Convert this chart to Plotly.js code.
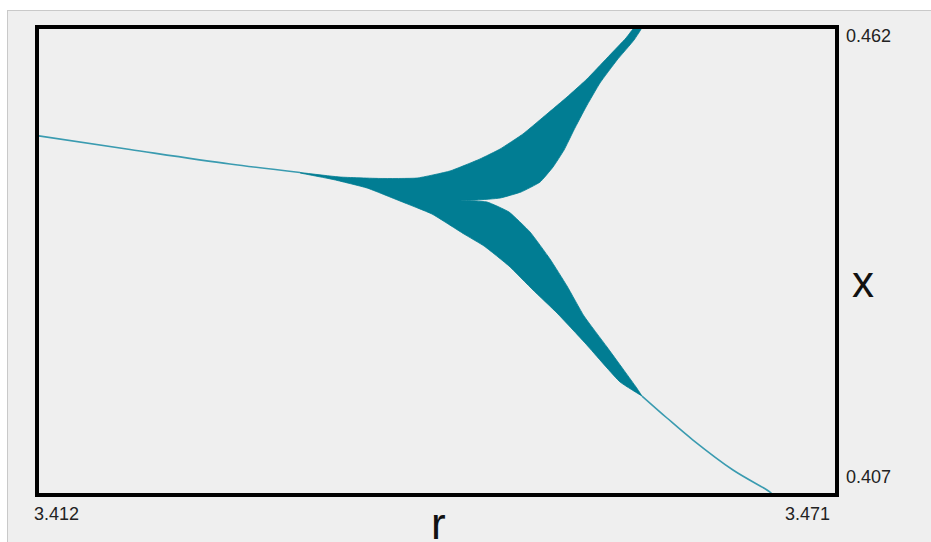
<!DOCTYPE html>
<html>
<head>
<meta charset="utf-8">
<script src="https://cdn.plot.ly/plotly-3.0.1.min.js"></script>
<style>
  body { margin: 0; background: #ffffff; overflow: hidden; }
  #card {
    position: absolute; left: 7px; top: 10px; width: 940px; height: 560px;
    background: #efefef; border: 1px solid #c9c9c9;
  }
  #chart { position: absolute; left: 0; top: 0; width: 931px; height: 542px; }
</style>
</head>
<body>
<div id="card"></div>
<div id="chart"></div>
<script>
// axis limits shown on the chart
const rRange = [3.412, 3.471];
const xRange = [0.407, 0.462];

// single stable branch on the left
const rStable = [3.41200, 3.41886, 3.42623, 3.43140];
const xStable = [0.44923, 0.44760, 0.44590, 0.44490];

// outer edge of the band, left to the top of the upper branch
const rUpperOuter = [3.43140, 3.43435, 3.43730, 3.44003, 3.44246, 3.44467, 3.44615, 3.44784, 3.44961, 3.45109, 3.45256, 3.45404, 3.45544, 3.45610];
const xUpperOuter = [0.44490, 0.44437, 0.44420, 0.44425, 0.44508, 0.44649, 0.44766, 0.44943, 0.45178, 0.45377, 0.45589, 0.45836, 0.46071, 0.46200];

// inner edge of the upper branch, top down to the notch
const rUpperInner = [3.45662, 3.45603, 3.45478, 3.45352, 3.45249, 3.45160, 3.45087, 3.45006, 3.44910, 3.44770, 3.44615, 3.44445, 3.44305];
const xUpperInner = [0.46200, 0.46047, 0.45812, 0.45542, 0.45260, 0.44990, 0.44754, 0.44555, 0.44378, 0.44261, 0.44190, 0.44167, 0.44167];

// inner edge of the lower branch, notch down to its tip
const rLowerInner = [3.44305, 3.44519, 3.44681, 3.44836, 3.44983, 3.45109, 3.45234, 3.45404, 3.45618, 3.45662];
const xLowerInner = [0.44167, 0.44143, 0.44026, 0.43791, 0.43474, 0.43156, 0.42804, 0.42439, 0.41969, 0.41863];

// outer edge of the lower branch, tip back to the left
const rLowerOuter = [3.45662, 3.45500, 3.45242, 3.45035, 3.44858, 3.44681, 3.44497, 3.44349, 3.44113, 3.43877, 3.43634, 3.43383, 3.43140];
const xLowerOuter = [0.41863, 0.42028, 0.42486, 0.42839, 0.43109, 0.43391, 0.43626, 0.43767, 0.44002, 0.44155, 0.44308, 0.44408, 0.44484];

// thin lower branch after the band closes
const rTail = [3.45662, 3.45846, 3.46038, 3.46333, 3.46606, 3.46628];
const xTail = [0.41863, 0.41605, 0.41346, 0.40994, 0.40735, 0.40700];

const teal = '#017d93';

const band = {
    x: rUpperOuter.concat(rUpperInner, rLowerInner, rLowerOuter),
    y: xUpperOuter.concat(xUpperInner, xLowerInner, xLowerOuter),
    mode: 'lines',
    fill: 'toself',
    fillcolor: teal,
    line: { color: teal, width: 0.8, shape: 'spline', smoothing: 0.4 },
    hoverinfo: 'skip'
};

const stable = {
    x: rStable, y: xStable, mode: 'lines',
    line: { color: '#3a9bb0', width: 1.6, shape: 'spline' },
    hoverinfo: 'skip'
};

const tail = {
    x: rTail, y: xTail, mode: 'lines',
    line: { color: '#3a9bb0', width: 1.6, shape: 'spline' },
    hoverinfo: 'skip'
};

const tickFont = { family: 'Liberation Sans, Arial, sans-serif', size: 18, color: '#222' };
const titleFont = { family: 'Liberation Sans Narrow, Arial Narrow, Liberation Sans, sans-serif', size: 44, color: '#111' };

const layout = {
    width: 931,
    height: 542,
    margin: { l: 37, r: 94, t: 27, b: 47 },
    paper_bgcolor: 'rgba(0,0,0,0)',
    plot_bgcolor: '#efefef',
    showlegend: false,
    xaxis: { range: rRange, showgrid: false, zeroline: false, showticklabels: false, ticks: '', fixedrange: true },
    yaxis: { range: xRange, showgrid: false, zeroline: false, showticklabels: false, ticks: '', fixedrange: true },
    shapes: [{
        type: 'rect', xref: 'paper', yref: 'paper', x0: 0, x1: 1, y0: 0, y1: 1,
        line: { color: '#000', width: 4 }, layer: 'above'
    }],
    annotations: [
        { text: String(rRange[0]), xref: 'paper', yref: 'paper', x: 0, y: 0, xanchor: 'left', yanchor: 'middle', xshift: -5, yshift: -19, showarrow: false, font: tickFont },
        { text: String(rRange[1]), xref: 'paper', yref: 'paper', x: 1, y: 0, xanchor: 'right', yanchor: 'middle', xshift: -5, yshift: -19, showarrow: false, font: tickFont },
        { text: String(xRange[1]), xref: 'paper', yref: 'paper', x: 1, y: 1, xanchor: 'left', yanchor: 'middle', xshift: 7, yshift: -9, showarrow: false, font: tickFont },
        { text: String(xRange[0]), xref: 'paper', yref: 'paper', x: 1, y: 0, xanchor: 'left', yanchor: 'middle', xshift: 7, yshift: 18, showarrow: false, font: tickFont },
        { text: 'r', xref: 'paper', yref: 'paper', x: 0.502, y: 0, xanchor: 'center', yanchor: 'middle', yshift: -28, showarrow: false, font: titleFont },
        { text: 'x', xref: 'paper', yref: 'paper', x: 1, y: 0.5, xanchor: 'left', yanchor: 'middle', xshift: 13, yshift: -20, showarrow: false, font: titleFont }
    ]
};

Plotly.newPlot('chart', [band, stable, tail], layout, { staticPlot: true });
</script>
</body>
</html>
